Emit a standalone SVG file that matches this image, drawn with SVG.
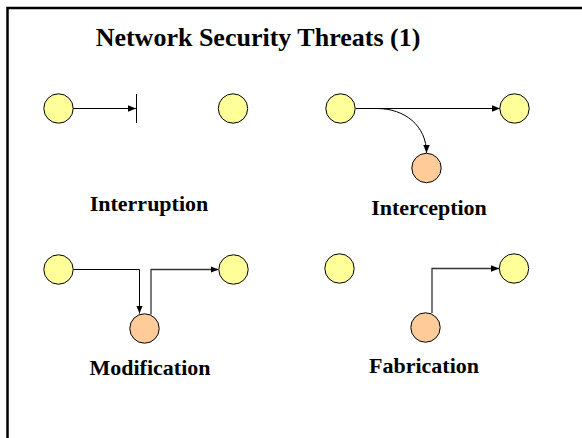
<svg xmlns="http://www.w3.org/2000/svg" width="582" height="438" viewBox="0 0 582 438">
  <style>
    .host { fill: #FFFF99; stroke: #000; stroke-width: 1; }
    .intruder { fill: #FFCC99; stroke: #000; stroke-width: 1; }
    .flow { fill: none; stroke: #000; stroke-width: 1; }
    .soft { fill: none; stroke: #333; stroke-width: 1.3; }
    .title { font-family: "Liberation Serif", "Times New Roman", serif; font-weight: bold; font-size: 26px; text-anchor: middle; }
    .label { font-family: "Liberation Serif", "Times New Roman", serif; font-weight: bold; font-size: 22px; text-anchor: middle; }
  </style>
  <defs>
    <marker id="arrow" viewBox="0 0 10 8" refX="10" refY="4" markerWidth="8" markerHeight="6.4" markerUnits="userSpaceOnUse" orient="auto">
      <path d="M0,0 L10,4 L0,8 Z" fill="#000"/>
    </marker>
  </defs>

  <rect width="582" height="438" fill="#fff"/>
  <!-- slide frame, open to the right and bottom -->
  <path d="M7.5,440 V8 H590" fill="none" stroke="#000" stroke-width="2.5"/>

  <text class="title" x="258" y="46">Network Security Threats (1)</text>

  <g id="connectors">
    <!-- interruption -->
    <line class="flow" x1="73" y1="108.5" x2="136" y2="108.5" marker-end="url(#arrow)"/>
    <line class="flow" x1="136.5" y1="94" x2="136.5" y2="123"/>
    <!-- interception -->
    <line class="flow" x1="355.5" y1="108.5" x2="500" y2="108.5" marker-end="url(#arrow)"/>
    <path class="flow" d="M377,108.5 C405,108.5 426.5,126 426.5,153" marker-end="url(#arrow)"/>
    <!-- modification -->
    <path class="flow" d="M73.5,269.5 H139.5 V313.5" marker-end="url(#arrow)"/>
    <path class="soft" d="M151,314.5 V269.5 H218.5" marker-end="url(#arrow)"/>
    <!-- fabrication -->
    <path class="soft" d="M432,313 V268.5 H499" marker-end="url(#arrow)"/>
  </g>

  <g id="interruption">
    <circle id="int-src" class="host" cx="58.5" cy="108.5" r="14.7"/>
    <circle id="int-dst" class="host" cx="233" cy="108.5" r="14.7"/>
    <text class="label" x="149" y="211">Interruption</text>
  </g>

  <g id="interception">
    <circle id="icp-src" class="host" cx="340.5" cy="108.5" r="14.7"/>
    <circle id="icp-dst" class="host" cx="514.5" cy="108.5" r="14.7"/>
    <circle id="icp-spy" class="intruder" cx="426.5" cy="168" r="14.7"/>
    <text class="label" x="429" y="215">Interception</text>
  </g>

  <g id="modification">
    <circle id="mod-src" class="host" cx="58.5" cy="269.5" r="14.7"/>
    <circle id="mod-dst" class="host" cx="233.5" cy="269.5" r="14.7"/>
    <circle id="mod-spy" class="intruder" cx="144.5" cy="328.5" r="14.7"/>
    <text class="label" x="150" y="375">Modification</text>
  </g>

  <g id="fabrication">
    <circle id="fab-src" class="host" cx="339.5" cy="268.5" r="14.7"/>
    <circle id="fab-dst" class="host" cx="514" cy="268.5" r="14.7"/>
    <circle id="fab-spy" class="intruder" cx="425.5" cy="327.5" r="14.7"/>
    <text class="label" x="424" y="373">Fabrication</text>
  </g>
</svg>
